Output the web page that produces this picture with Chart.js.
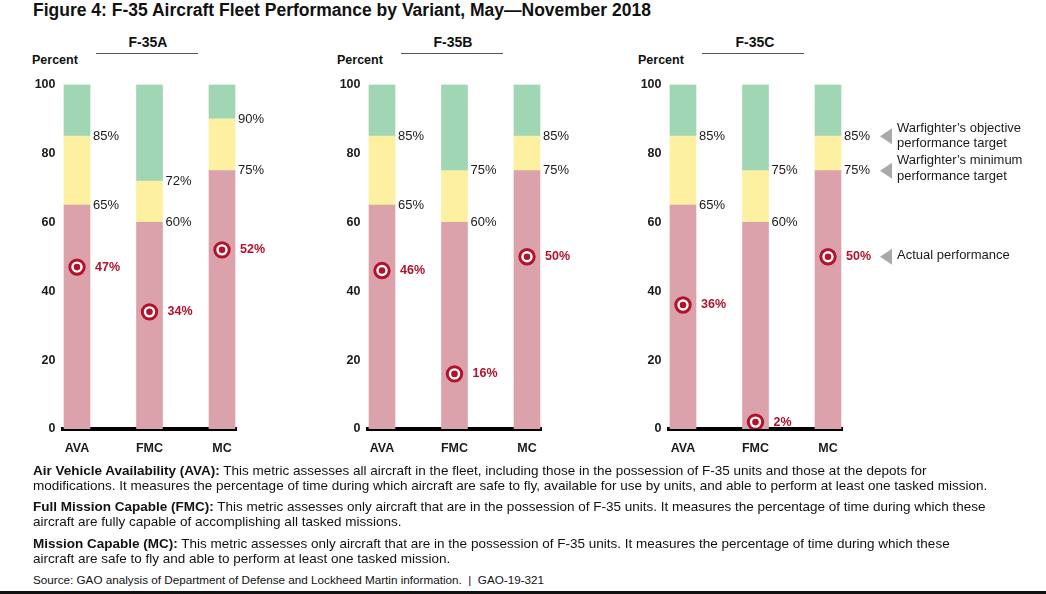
<!DOCTYPE html>
<html>
<head>
<meta charset="utf-8">
<script src="https://cdn.jsdelivr.net/npm/chart.js@4.4.0/dist/chart.umd.min.js"></script>
<style>
  body { margin: 0; width: 1046px; height: 594px; overflow: hidden; position: relative; background: #fff;
         font-family: "Liberation Sans", Arial, sans-serif; color: #111; }
  .abs { position: absolute; white-space: nowrap; }
  .fig-title { left: 33px; top: 0px; font-size: 17.5px; font-weight: bold; }
  .panel-title { font-size: 14px; font-weight: bold; width: 120px; text-align: center; top: 34px; }
  .panel-rule { height: 0; border-top: 1.5px solid #555; top: 53px; width: 102px; }
  .percent { font-size: 12.5px; font-weight: bold; top: 53px; }
  canvas { position: absolute; top: 70px; }
  .notes { left: 33px; font-size: 13.5px; line-height: 15px; }
  .source { left: 33px; top: 573px; font-size: 11.7px; }
  .bottom-bar { left: 0; top: 591px; width: 1046px; height: 3px; background: #111; }
</style>
</head>
<body>
<div class="abs fig-title">Figure 4: F-35 Aircraft Fleet Performance by Variant, May—November 2018</div>

<div class="abs panel-title" style="left:88px">F-35A</div>
<div class="abs panel-rule" style="left:96px"></div>
<div class="abs percent" style="left:32px">Percent</div>

<div class="abs panel-title" style="left:393px">F-35B</div>
<div class="abs panel-rule" style="left:401px"></div>
<div class="abs percent" style="left:337px">Percent</div>

<div class="abs panel-title" style="left:695px">F-35C</div>
<div class="abs panel-rule" style="left:702px"></div>
<div class="abs percent" style="left:638px">Percent</div>

<canvas id="chart-a" width="320" height="400" style="left:0px"></canvas>
<canvas id="chart-b" width="320" height="400" style="left:305px"></canvas>
<canvas id="chart-c" width="440" height="400" style="left:606px"></canvas>

<div class="abs notes" style="top:463px"><b>Air Vehicle Availability (AVA):</b> This metric assesses all aircraft in the fleet, including those in the possession of F-35 units and those at the depots for<br>modifications. It measures the percentage of time during which aircraft are safe to fly, available for use by units, and able to perform at least one tasked mission.</div>
<div class="abs notes" style="top:499px"><b>Full Mission Capable (FMC):</b> This metric assesses only aircraft that are in the possession of F-35 units. It measures the percentage of time during which these<br>aircraft are fully capable of accomplishing all tasked missions.</div>
<div class="abs notes" style="top:536px"><b>Mission Capable (MC):</b> This metric assesses only aircraft that are in the possession of F-35 units. It measures the percentage of time during which these<br>aircraft are safe to fly and able to perform at least one tasked mission.</div>
<div class="abs source">Source: GAO analysis of Department of Defense and Lockheed Martin information.&nbsp; |&nbsp; GAO-19-321</div>
<div class="abs bottom-bar"></div>

<script>
// ── Data ──────────────────────────────────────────────────────
const CATEGORIES = ['AVA', 'FMC', 'MC'];

const F35A_MIN    = [65, 60, 75];
const F35A_OBJ    = [85, 72, 90];
const F35A_ACTUAL = [47, 34, 52];

const F35B_MIN    = [65, 60, 75];
const F35B_OBJ    = [85, 75, 85];
const F35B_ACTUAL = [46, 16, 50];

const F35C_MIN    = [65, 60, 75];
const F35C_OBJ    = [85, 75, 85];
const F35C_ACTUAL = [36, 2, 50];

const Y_MAX = 100;

// ── Colours ───────────────────────────────────────────────────
const RED_BAR    = '#dba2ab';
const YELLOW_BAR = '#fdf0a0';
const GREEN_BAR  = '#a1d6b5';
const MARK_RED   = '#b3122c';
const TEXT       = '#1a1a1a';
const FONT       = '"Liberation Sans", Arial, sans-serif';

function points(values) {
  return values.map((v, i) => ({ x: i, y: v }));
}

// percent labels next to each bar + actual value labels
function labelPlugin(minT, obj, actual, withLegend) {
  return {
    id: 'barLabels',
    afterDatasetsDraw(chart) {
      const ctx = chart.ctx;
      const xs = chart.scales.x, ys = chart.scales.y;
      ctx.save();
      ctx.textBaseline = 'middle';
      ctx.textAlign = 'left';
      CATEGORIES.forEach((c, i) => {
        const cx = xs.getPixelForValue(i);
        ctx.font = '13px ' + FONT;
        ctx.fillStyle = TEXT;
        ctx.fillText(obj[i] + '%', cx + 16, ys.getPixelForValue(obj[i]));
        ctx.fillText(minT[i] + '%', cx + 16, ys.getPixelForValue(minT[i]));
        ctx.font = 'bold 12.5px ' + FONT;
        ctx.fillStyle = MARK_RED;
        ctx.fillText(actual[i] + '%', cx + 18, ys.getPixelForValue(actual[i]));
      });

      if (withLegend) {
        const last = CATEGORIES.length - 1;
        const cx = xs.getPixelForValue(last);
        const tip = cx + 52, tx = cx + 69;
        const yObj = ys.getPixelForValue(obj[last]);
        const yMin = ys.getPixelForValue(minT[last]);
        const yAct = ys.getPixelForValue(actual[last]);
        ctx.fillStyle = '#a9a9a9';
        [yObj, yMin, yAct].forEach(y => {
          ctx.beginPath();
          ctx.moveTo(tip, y);
          ctx.lineTo(tip + 12, y - 8);
          ctx.lineTo(tip + 12, y + 8);
          ctx.closePath();
          ctx.fill();
        });
        ctx.fillStyle = TEXT;
        ctx.font = '13px ' + FONT;
        ctx.fillText('Warfighter\u2019s objective', tx, yObj - 8);
        ctx.fillText('performance target', tx, yObj + 7);
        ctx.fillText('Warfighter\u2019s minimum', tx, yMin - 10);
        ctx.fillText('performance target', tx, yMin + 6);
        ctx.fillText('Actual performance', tx, yAct - 1);
      }
      ctx.restore();
    }
  };
}

function makeChart(id, minT, obj, actual, withLegend) {
  const canvas = document.getElementById(id);
  const rightPad = canvas.width - 236.5;
  return new Chart(canvas, {
    type: 'bar',
    data: {
      datasets: [
        { type: 'scatter', data: points(actual), stack: 'dot', order: 0,
          pointRadius: 3.3, pointBackgroundColor: MARK_RED, pointBorderWidth: 0 },
        { type: 'scatter', data: points(actual), stack: 'ring', order: 1,
          pointRadius: 7.2, pointBackgroundColor: '#fff', pointBorderColor: MARK_RED, pointBorderWidth: 3 },
        { data: points(minT), backgroundColor: RED_BAR, order: 2, barThickness: 26 },
        { data: points(obj.map((v, i) => v - minT[i])), backgroundColor: YELLOW_BAR, order: 2, barThickness: 26 },
        { data: points(obj.map(v => Y_MAX - v)), backgroundColor: GREEN_BAR, order: 2, barThickness: 26 }
      ]
    },
    options: {
      responsive: false,
      animation: false,
      layout: { padding: { top: 14, right: rightPad, bottom: 0, left: 0 } },
      plugins: { legend: { display: false }, tooltip: { enabled: false } },
      scales: {
        x: {
          type: 'linear', stacked: true, min: -0.2, max: 2.2, offset: false,
          afterBuildTicks: s => { s.ticks = CATEGORIES.map((c, i) => ({ value: i })); },
          afterFit: s => { s.height = 41; },
          grid: { display: false, drawTicks: false },
          border: { display: true, color: '#000', width: 4 },
          ticks: { callback: v => CATEGORIES[v], padding: 12, color: TEXT,
                   font: { family: FONT, size: 12.5, weight: 'bold' } }
        },
        y: {
          stacked: true, min: 0, max: Y_MAX,
          afterFit: s => { s.width = 62.5; },
          grid: { display: false, drawTicks: false },
          border: { display: false },
          ticks: { stepSize: 20, padding: 7, color: TEXT,
                   font: { family: FONT, size: 12.5, weight: 'bold' } }
        }
      }
    },
    plugins: [labelPlugin(minT, obj, actual, withLegend)]
  });
}

makeChart('chart-a', F35A_MIN, F35A_OBJ, F35A_ACTUAL, false);
makeChart('chart-b', F35B_MIN, F35B_OBJ, F35B_ACTUAL, false);
makeChart('chart-c', F35C_MIN, F35C_OBJ, F35C_ACTUAL, true);
</script>
</body>
</html>
